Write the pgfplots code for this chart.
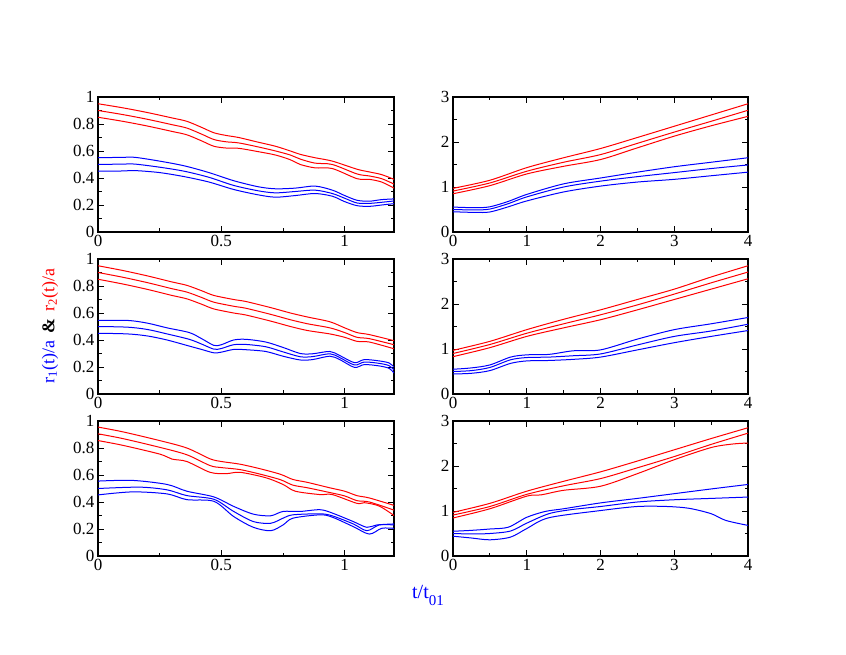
\documentclass[border=0pt]{standalone}
\usepackage{pgfplots}
\pgfplotsset{compat=1.18}
\usepackage{fontspec}
\setmainfont{Liberation Serif}
\newcommand\tfont{\fontsize{17}{17}\selectfont}
\tikzset{rl/.style={red, line width=1pt, smooth}, bl/.style={blue, line width=1pt, smooth}}
\pgfplotsset{
 panel/.style={scale only axis, height=135pt, anchor=south west,
   axis line style={line width=1.5pt}, major tick length=6pt, minor tick length=3.5pt,
   every tick/.style={line width=0.8pt, black},
   xticklabel style={font=\tfont},
   yticklabel style={font=\tfont},
   minor x tick num=1, minor y tick num=1},
 Lp/.style={panel, width=296pt, xmin=0, xmax=1.2, ymin=0, ymax=1,
   xtick={0,0.5,1}, ytick={0,0.2,0.4,0.6,0.8,1},
   xticklabels={{\tfont 0},{\tfont 0.5},{\tfont 1}},
   yticklabels={{\tfont 0},{\tfont 0.2},{\tfont 0.4},{\tfont 0.6},{\tfont 0.8},{\tfont 1}}},
 Rp/.style={panel, width=295pt, xmin=0, xmax=4, ymin=0, ymax=3,
   xtick={0,1,2,3,4}, ytick={0,1,2,3},
   xticklabels={{\tfont 0},{\tfont 1},{\tfont 2},{\tfont 3},{\tfont 4}},
   yticklabels={{\tfont 0},{\tfont 1},{\tfont 2},{\tfont 3}}},
}
\begin{document}
\begin{tikzpicture}
\path[use as bounding box] (0pt,0pt) rectangle (846pt,654pt);
% ---------- top left
\begin{axis}[Lp, at={(98pt,422pt)}]
\addplot[rl] coordinates {(0,0.95)(0.1,0.92)(0.2,0.885)(0.3,0.845)(0.36,0.82)(0.42,0.775)(0.47,0.735)(0.52,0.715)(0.57,0.70)(0.65,0.665)(0.72,0.635)(0.78,0.60)(0.82,0.575)(0.88,0.55)(0.95,0.525)(1.05,0.465)(1.1,0.445)(1.15,0.425)(1.2,0.39)};
\addplot[rl] coordinates {(0,0.90)(0.1,0.87)(0.2,0.835)(0.3,0.795)(0.36,0.77)(0.42,0.725)(0.47,0.685)(0.52,0.668)(0.57,0.66)(0.65,0.63)(0.72,0.60)(0.78,0.57)(0.82,0.54)(0.88,0.51)(0.95,0.50)(1.05,0.43)(1.1,0.415)(1.15,0.395)(1.2,0.355)};
\addplot[rl] coordinates {(0,0.85)(0.1,0.82)(0.2,0.785)(0.3,0.745)(0.36,0.72)(0.42,0.675)(0.47,0.635)(0.52,0.622)(0.57,0.62)(0.65,0.595)(0.72,0.57)(0.78,0.535)(0.82,0.50)(0.88,0.475)(0.95,0.47)(1.05,0.395)(1.1,0.39)(1.15,0.37)(1.2,0.325)};
\addplot[bl] coordinates {(0,0.55)(0.1,0.553)(0.15,0.553)(0.25,0.525)(0.35,0.49)(0.45,0.44)(0.55,0.38)(0.65,0.335)(0.72,0.32)(0.8,0.325)(0.88,0.34)(0.95,0.31)(1.0,0.27)(1.05,0.235)(1.1,0.228)(1.15,0.24)(1.2,0.245)};
\addplot[bl] coordinates {(0,0.50)(0.1,0.503)(0.15,0.503)(0.25,0.48)(0.35,0.45)(0.45,0.405)(0.55,0.345)(0.65,0.305)(0.72,0.29)(0.8,0.3)(0.88,0.31)(0.95,0.285)(1.0,0.25)(1.05,0.215)(1.1,0.212)(1.15,0.22)(1.2,0.23)};
\addplot[bl] coordinates {(0,0.45)(0.1,0.452)(0.15,0.455)(0.25,0.44)(0.35,0.41)(0.45,0.37)(0.55,0.315)(0.65,0.275)(0.72,0.258)(0.8,0.27)(0.88,0.285)(0.95,0.265)(1.0,0.225)(1.05,0.195)(1.1,0.19)(1.15,0.2)(1.2,0.21)};
\end{axis}
% ---------- middle left
\begin{axis}[Lp, at={(98pt,260pt)}]
\addplot[rl] coordinates {(0,0.95)(0.1,0.915)(0.2,0.875)(0.3,0.83)(0.36,0.805)(0.42,0.765)(0.47,0.73)(0.55,0.70)(0.6,0.685)(0.7,0.64)(0.78,0.60)(0.85,0.57)(0.94,0.535)(1.0,0.49)(1.05,0.455)(1.1,0.44)(1.2,0.395)};
\addplot[rl] coordinates {(0,0.90)(0.1,0.865)(0.2,0.825)(0.3,0.78)(0.36,0.755)(0.42,0.715)(0.47,0.68)(0.55,0.65)(0.6,0.635)(0.7,0.59)(0.78,0.55)(0.85,0.52)(0.94,0.49)(1.0,0.455)(1.05,0.42)(1.1,0.41)(1.2,0.365)};
\addplot[rl] coordinates {(0,0.85)(0.1,0.815)(0.2,0.775)(0.3,0.73)(0.36,0.705)(0.42,0.665)(0.47,0.63)(0.55,0.60)(0.6,0.585)(0.7,0.54)(0.78,0.50)(0.85,0.47)(0.94,0.445)(1.0,0.42)(1.05,0.39)(1.1,0.385)(1.2,0.335)};
\addplot[bl] coordinates {(0,0.545)(0.12,0.545)(0.2,0.525)(0.28,0.49)(0.37,0.455)(0.42,0.41)(0.47,0.36)(0.5,0.365)(0.55,0.40)(0.6,0.405)(0.68,0.385)(0.75,0.345)(0.82,0.30)(0.87,0.298)(0.94,0.315)(0.98,0.285)(1.04,0.232)(1.08,0.255)(1.14,0.245)(1.18,0.23)(1.2,0.20)};
\addplot[bl] coordinates {(0,0.50)(0.12,0.495)(0.2,0.478)(0.28,0.445)(0.37,0.405)(0.42,0.37)(0.47,0.332)(0.5,0.337)(0.55,0.365)(0.6,0.367)(0.68,0.35)(0.75,0.312)(0.82,0.276)(0.87,0.277)(0.94,0.298)(0.98,0.27)(1.04,0.215)(1.08,0.237)(1.14,0.227)(1.18,0.21)(1.2,0.178)};
\addplot[bl] coordinates {(0,0.45)(0.12,0.445)(0.2,0.43)(0.28,0.40)(0.37,0.355)(0.42,0.33)(0.47,0.305)(0.5,0.31)(0.55,0.33)(0.6,0.328)(0.68,0.315)(0.75,0.28)(0.82,0.252)(0.87,0.255)(0.94,0.28)(0.98,0.255)(1.04,0.197)(1.08,0.218)(1.14,0.208)(1.18,0.19)(1.2,0.155)};
\end{axis}
% ---------- bottom left
\begin{axis}[Lp, at={(98pt,98pt)}]
\addplot[rl] coordinates {(0,0.955)(0.1,0.92)(0.25,0.855)(0.36,0.80)(0.454,0.72)(0.5,0.70)(0.576,0.68)(0.66,0.645)(0.74,0.605)(0.79,0.567)(0.85,0.545)(0.94,0.505)(1.0,0.48)(1.05,0.447)(1.1,0.43)(1.2,0.375)};
\addplot[rl] coordinates {(0,0.905)(0.1,0.87)(0.25,0.805)(0.36,0.75)(0.454,0.67)(0.5,0.655)(0.576,0.64)(0.66,0.605)(0.74,0.565)(0.79,0.525)(0.85,0.505)(0.94,0.47)(1.0,0.445)(1.05,0.41)(1.1,0.40)(1.2,0.34)};
\addplot[rl] coordinates {(0,0.855)(0.1,0.82)(0.25,0.755)(0.3,0.718)(0.36,0.70)(0.454,0.62)(0.52,0.61)(0.576,0.62)(0.68,0.58)(0.75,0.53)(0.8,0.48)(0.9,0.455)(0.95,0.455)(1.05,0.39)(1.08,0.395)(1.14,0.37)(1.2,0.30)};
\addplot[bl] coordinates {(0,0.555)(0.14,0.56)(0.28,0.53)(0.36,0.48)(0.47,0.4375)(0.55,0.3675)(0.63,0.31)(0.70,0.298)(0.75,0.33)(0.82,0.33)(0.9,0.343)(0.95,0.318)(1.035,0.255)(1.09,0.2125)(1.13,0.23)(1.2,0.2375)};
\addplot[bl] coordinates {(0,0.50)(0.17,0.51)(0.28,0.49)(0.36,0.4475)(0.47,0.42)(0.55,0.33)(0.63,0.255)(0.70,0.2425)(0.75,0.28)(0.79,0.305)(0.9,0.3125)(0.95,0.2975)(1.035,0.2375)(1.09,0.1875)(1.14,0.23)(1.2,0.23)};
\addplot[bl] coordinates {(0,0.4525)(0.14,0.475)(0.28,0.46)(0.36,0.4175)(0.47,0.405)(0.55,0.2925)(0.63,0.2125)(0.70,0.1875)(0.75,0.23)(0.79,0.28)(0.9,0.305)(0.95,0.2875)(1.035,0.2175)(1.1,0.1625)(1.15,0.205)(1.2,0.205)};
\end{axis}
% ---------- top right
\begin{axis}[Rp, at={(453pt,422pt)}]
\addplot[rl] coordinates {(0,0.97)(0.5,1.15)(1,1.43)(1.5,1.65)(2,1.855)(2.5,2.1)(3,2.35)(3.5,2.6)(4,2.85)};
\addplot[rl] coordinates {(0,0.91)(0.5,1.09)(1,1.35)(1.5,1.55)(2,1.72)(2.5,1.97)(3,2.22)(3.5,2.46)(4,2.705)};
\addplot[rl] coordinates {(0,0.85)(0.5,1.03)(1,1.29)(1.5,1.46)(2,1.61)(2.5,1.87)(3,2.13)(3.5,2.36)(4,2.57)};
\addplot[bl] coordinates {(0,0.554)(0.3,0.54)(0.5,0.56)(0.75,0.68)(1,0.835)(1.5,1.07)(2,1.2)(2.5,1.33)(3,1.45)(3.5,1.55)(4,1.65)};
\addplot[bl] coordinates {(0,0.50)(0.3,0.49)(0.5,0.51)(0.75,0.63)(1,0.78)(1.5,1.0)(2,1.13)(2.5,1.23)(3,1.32)(3.5,1.41)(4,1.49)};
\addplot[bl] coordinates {(0,0.45)(0.3,0.435)(0.5,0.445)(0.75,0.56)(1,0.69)(1.5,0.89)(2,1.02)(2.5,1.11)(3,1.17)(3.5,1.25)(4,1.33)};
\end{axis}
% ---------- middle right
\begin{axis}[Rp, at={(453pt,260pt)}]
\addplot[rl] coordinates {(0,0.97)(0.5,1.17)(1,1.43)(1.5,1.66)(2,1.87)(2.5,2.1)(3,2.33)(3.5,2.6)(4,2.85)};
\addplot[rl] coordinates {(0,0.90)(0.5,1.1)(1,1.35)(1.5,1.56)(2,1.76)(2.5,1.98)(3,2.22)(3.5,2.47)(4,2.71)};
\addplot[rl] coordinates {(0,0.83)(0.5,1.03)(1,1.28)(1.5,1.47)(2,1.65)(2.5,1.87)(3,2.1)(3.5,2.33)(4,2.56)};
\addplot[bl] coordinates {(0,0.55)(0.25,0.58)(0.5,0.646)(0.78,0.82)(1,0.87)(1.3,0.88)(1.63,0.96)(2,0.98)(2.5,1.22)(3,1.43)(3.5,1.56)(4,1.70)};
\addplot[bl] coordinates {(0,0.5)(0.25,0.52)(0.5,0.59)(0.78,0.76)(1,0.81)(1.3,0.82)(1.63,0.85)(2,0.89)(2.5,1.09)(3,1.28)(3.5,1.40)(4,1.55)};
\addplot[bl] coordinates {(0,0.445)(0.25,0.46)(0.5,0.52)(0.78,0.68)(1,0.735)(1.3,0.745)(1.63,0.77)(2,0.82)(2.5,0.98)(3,1.14)(3.5,1.28)(4,1.41)};
\end{axis}
% ---------- bottom right
\begin{axis}[Rp, at={(453pt,98pt)}]
\addplot[rl] coordinates {(0,0.97)(0.5,1.17)(1,1.44)(1.5,1.66)(2,1.87)(2.5,2.11)(3,2.36)(3.5,2.61)(4,2.85)};
\addplot[rl] coordinates {(0,0.91)(0.5,1.1)(1,1.37)(1.5,1.56)(2,1.72)(2.5,1.96)(3,2.21)(3.5,2.48)(4,2.73)};
\addplot[rl] coordinates {(0,0.845)(0.5,1.05)(1,1.33)(1.2,1.36)(1.5,1.46)(2,1.55)(2.5,1.83)(3,2.14)(3.5,2.41)(3.8,2.49)(4,2.51)};
\addplot[bl] coordinates {(0,0.55)(0.25,0.57)(0.5,0.6)(0.75,0.64)(1,0.86)(1.25,0.99)(1.5,1.05)(2,1.18)(2.5,1.28)(3,1.385)(3.5,1.49)(4,1.59)};
\addplot[bl] coordinates {(0,0.5)(0.25,0.49)(0.5,0.5)(0.78,0.555)(1,0.73)(1.3,0.94)(1.6,1.03)(2,1.10)(2.5,1.2)(3,1.25)(3.5,1.28)(4,1.31)};
\addplot[bl] coordinates {(0,0.44)(0.25,0.4)(0.5,0.36)(0.78,0.42)(1,0.61)(1.3,0.85)(2,1.01)(2.5,1.1)(2.9,1.1)(3.2,1.06)(3.5,0.94)(3.7,0.79)(4,0.68)};
\end{axis}
% ---------- labels
\node[rotate=90, font=\fontsize{18}{18}\selectfont, inner sep=0pt] at (50pt,328pt)
 {{\color{blue}r\textsubscript{1}(t)/a}\hspace{7pt}{\bfseries\&}\hspace{7pt}{\color{red}r\textsubscript{2}(t)/a}};
\node[font=\fontsize{20}{20}\selectfont, inner sep=0pt, text=blue] at (428pt,59pt)
 {t/t\raisebox{-0.35em}{\fontsize{15}{15}\selectfont 01}};
\end{tikzpicture}
\end{document}
